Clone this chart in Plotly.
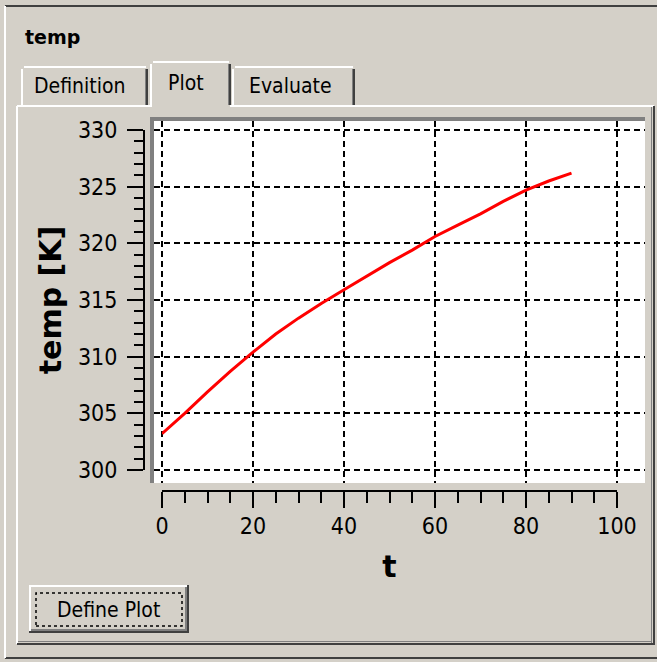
import plotly.graph_objects as go

# ── data ────────────────────────────────────────────────────
t_values = [0, 5, 10, 15, 20, 25, 30, 35, 40, 45, 50, 55, 60, 65, 70, 75, 80, 85, 90]
temp_values = [303.2, 305.0, 306.9, 308.7, 310.4, 312.0, 313.4, 314.7, 315.9, 317.1,
               318.3, 319.4, 320.6, 321.6, 322.6, 323.7, 324.7, 325.5, 326.2]
x_ticks = [0, 20, 40, 60, 80, 100]
y_ticks = [300, 305, 310, 315, 320, 325, 330]
tab_labels = ["Definition", "Plot", "Evaluate"]

# ── window geometry (pixels) ────────────────────────────────
W, H = 657, 662
BG = "#D4D0C8"
DARK = "#404040"
SHADOW = "#808080"
FONT = "DejaVu Sans Condensed, DejaVu Sans, sans-serif"


def px(x):
    return x / W


def py(y):
    return 1 - y / H


shapes = []


def rect(x0, y0, x1, y1, fill):
    shapes.append(dict(type="rect", xref="paper", yref="paper", layer="below",
                       x0=px(x0), x1=px(x1), y0=py(y1), y1=py(y0),
                       fillcolor=fill, line=dict(width=0)))


def hline(x0, x1, y, color, w=2):
    rect(x0, y - w / 2, x1, y + w / 2, color)


def vline(x, y0, y1, color, w=2):
    rect(x - w / 2, y0, x + w / 2, y1, color)


# outer window frame
hline(5, W, 6, DARK)
hline(5, W, 658, DARK)
vline(5, 6, 658, "#FFFFFF")

# tab panel
hline(17, 152, 106, "#FFFFFF")
hline(230, 654, 106, "#FFFFFF")
vline(17, 106, 644, "#FFFFFF")
vline(654, 106, 645, DARK)
vline(651.5, 107, 643, SHADOW, 1)
hline(17, 655, 644, DARK)
hline(18, 652, 641.5, SHADOW, 1)

# tabs: (left, right, top)
tabs = [(22, 148, 67), (151, 231, 62), (233, 355, 67)]
for x0, x1, top in tabs:
    vline(x0, top + 2, 106, "#FFFFFF")
    hline(x0 + 2, x1 - 2, top, "#FFFFFF")
    vline(x1 - 1, top + 2, 105, DARK)
    vline(x1 - 2.5, top + 2, 105, SHADOW, 1)

# sunken plot frame + white plotting panel
rect(150, 117, 645, 483, SHADOW)
rect(154, 121, 645, 483, "#FFFFFF")

# "Define Plot" button
rect(29, 585, 189, 633, DARK)
rect(29, 585, 187, 631, "#FFFFFF")
rect(31, 587, 187, 631, SHADOW)
rect(31, 587, 185, 629, BG)
shapes.append(dict(type="rect", xref="paper", yref="paper", layer="above",
                   x0=px(36), x1=px(182), y0=py(626), y1=py(593),
                   line=dict(color="#000000", width=1.5, dash="dot")))

annotations = [
    dict(text="<b>temp</b>", x=px(23), y=py(37), xanchor="left", yanchor="middle",
         font=dict(size=19, color="#000000", family="DejaVu Sans")),
    dict(text="Define Plot", x=px(108), y=py(610), xanchor="center", yanchor="middle",
         font=dict(size=21, color="#000000", family=FONT)),
]
tab_centers = [(80, 86), (186, 83), (290, 86)]
for label, (cx, cy) in zip(tab_labels, tab_centers):
    annotations.append(dict(text=label, x=px(cx), y=py(cy), xanchor="center", yanchor="middle",
                            font=dict(size=21, color="#000000", family=FONT)))
for a in annotations:
    a.update(xref="paper", yref="paper", showarrow=False)

# ── plot ────────────────────────────────────────────────────
fig = go.Figure()
# empty trace so the white panel's grid subplot gets drawn
fig.add_trace(go.Scatter(x=[], y=[], showlegend=False, hoverinfo="skip"))
fig.add_trace(go.Scatter(
    x=t_values, y=temp_values, mode="lines",
    line=dict(color="#FF0000", width=3),
    xaxis="x2", yaxis="y2", showlegend=False, hoverinfo="x+y",
))

# white panel axes: only the dashed grid
x_px_per = (617 - 162) / 100
y_px_per = (470 - 130) / 30
grid = dict(showgrid=True, gridcolor="#000000", gridwidth=2, griddash="6px,4px",
            showticklabels=False, ticks="", zeroline=False, showline=False,
            fixedrange=True, automargin=False)

axis_font = dict(size=23, color="#000000", family=FONT)
title_font = dict(size=30, color="#000000", family="DejaVu Sans")
tick_style = dict(ticks="outside", tickwidth=2, tickcolor="#000000", showline=True,
                  linewidth=2, linecolor="#000000", showgrid=False, zeroline=False,
                  tickfont=axis_font, fixedrange=True, automargin=False)

fig.update_layout(
    width=W, height=H,
    margin=dict(l=0, r=0, t=0, b=0),
    paper_bgcolor=BG,
    plot_bgcolor="rgba(0,0,0,0)",
    showlegend=False,
    xaxis=dict(domain=[px(154), px(645)],
               range=[(154 - 162) / x_px_per, (645 - 162) / x_px_per],
               tickvals=x_ticks, **grid),
    yaxis=dict(domain=[py(483), py(121)],
               range=[300 - (483 - 470) / y_px_per, 330 + (130 - 121) / y_px_per],
               tickvals=y_ticks, **grid),
    xaxis2=dict(domain=[px(162), px(617)], range=[0, 100], anchor="free", position=py(491),
                side="bottom", tickvals=x_ticks, ticklen=16, ticklabelstandoff=-2,
                minor=dict(dtick=5, ticklen=11, tickwidth=2, tickcolor="#000000", ticks="outside"),
                title=dict(text="<b>t</b>", font=title_font, standoff=17),
                **tick_style),
    yaxis2=dict(domain=[py(470), py(130)], range=[300, 330], anchor="free", position=px(144),
                side="left", tickvals=y_ticks, ticklen=16, ticklabelstandoff=5,
                minor=dict(dtick=1, ticklen=9, tickwidth=2, tickcolor="#000000", ticks="outside"),
                title=dict(text="<b>temp [K]</b>", font=title_font, standoff=6),
                **tick_style),
    shapes=shapes,
    annotations=annotations,
)

# drop the browser's default 8px body margin so the "window" sits flush
fig.write_html("out.html", config={"displayModeBar": False},
               post_script="document.body.style.margin='0';")
